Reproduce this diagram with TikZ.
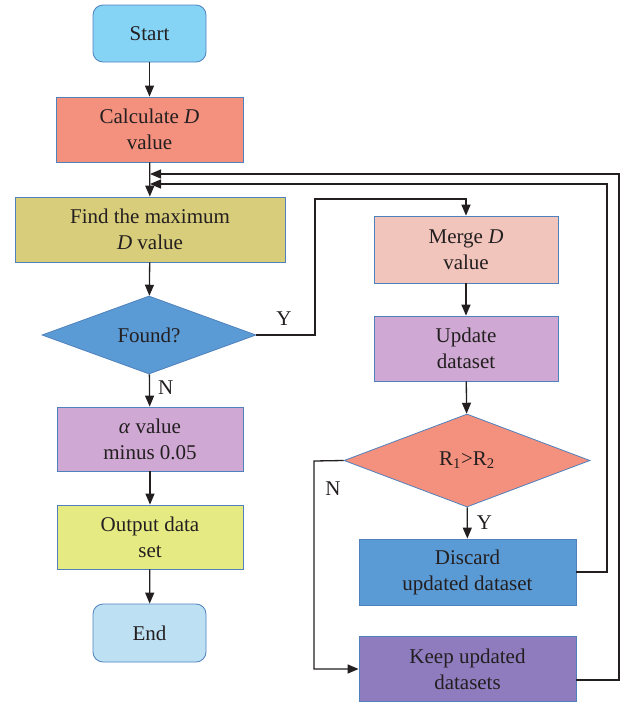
\documentclass[tikz,border=0pt]{standalone}
\usepackage{fontspec}
\setmainfont{Liberation Serif}
\usetikzlibrary{shapes.geometric,arrows.meta}
\definecolor{bordc}{HTML}{4F81BD}
\definecolor{linec}{HTML}{231F20}
\definecolor{txtc}{HTML}{231F20}
\definecolor{startc}{HTML}{86D4F5}
\definecolor{endc}{HTML}{BDE1F3}
\definecolor{calcc}{HTML}{F4907E}
\definecolor{findc}{HTML}{D8CD7A}
\definecolor{foundc}{HTML}{5B9BD5}
\definecolor{alphac}{HTML}{CFA9D3}
\definecolor{outc}{HTML}{E6EA82}
\definecolor{mergec}{HTML}{F2C5BC}
\definecolor{updc}{HTML}{CFA9D3}
\definecolor{rc}{HTML}{F4907E}
\definecolor{discc}{HTML}{5B9BD5}
\definecolor{keepc}{HTML}{8E7CBF}
\begin{document}
\begin{tikzpicture}[x=1pt,y=-1pt,
  txt/.style={text=txtc,font=\fontsize{21}{26}\selectfont},
  box/.style={txt,draw=bordc,line width=0.8pt,inner sep=0pt,align=center},
  term/.style={box,rounded corners=10pt},
  decision/.style={box,diamond},
  conn/.style={draw=linec,line width=1.3pt,-{Triangle[length=11pt,width=9pt]}},
  lbl/.style={txt,inner sep=0pt}]
\useasboundingbox (0,0) rectangle (622,705);
% left column
\node[term,fill=startc,minimum width=113pt,minimum height=57pt] (start) at (149.5,33.5) {Start};
\node[box,fill=calcc,minimum width=187pt,minimum height=65pt] (calc) at (149.5,129.5) {Calculate \textit{D}\\value};
\node[box,fill=findc,minimum width=270pt,minimum height=65pt] (find) at (150,229.5) {Find the maximum\\\textit{D} value};
\node[decision,fill=foundc,minimum width=214pt,minimum height=78pt] (found) at (149,335) {Found?};
\node[box,fill=alphac,minimum width=186pt,minimum height=64pt] (alpha) at (150,439) {\textit{α} value\\minus 0.05};
\node[box,fill=outc,minimum width=186pt,minimum height=64pt] (out) at (150,537) {Output data\\set};
\node[term,fill=endc,minimum width=113pt,minimum height=58pt] (end) at (149.5,633) {End};
% right column
\node[box,fill=mergec,minimum width=184pt,minimum height=67pt] (merge) at (466,249.5) {Merge \textit{D}\\value};
\node[box,fill=updc,minimum width=184pt,minimum height=65pt] (upd) at (466,348.5) {Update\\dataset};
\node[decision,fill=rc,minimum width=246pt,minimum height=93pt] (r12) at (467,460.5) {R\textsubscript{1}>R\textsubscript{2}};
\node[box,fill=discc,minimum width=217pt,minimum height=66pt] (disc) at (467.5,572) {Discard\\updated dataset};
\node[box,fill=keepc,minimum width=217pt,minimum height=65pt] (keep) at (467.5,669) {Keep updated\\datasets};
% helper coordinates
\coordinate (yA) at (315,335);
\coordinate (yB) at (315,199);
\coordinate (nA) at (314,461);
\coordinate (jIn) at (150,184);
\coordinate (jOut) at (150,174);
\coordinate (cIn) at (607,184);
\coordinate (cOut) at (619,174);
% connectors
\draw[conn] (start) -- (calc);
\draw[conn] (calc) -- (find);
\draw[conn] (find) -- (found);
\draw[conn] (found) -- node[lbl,pos=0.42,right=8pt]{N} (alpha);
\draw[conn] (alpha) -- (out);
\draw[conn] (out) -- (end);
\draw[conn] (found.east) -- node[lbl,pos=0.47,above=9pt]{Y} (yA) -- (yB) -| (merge.north);
\draw[conn] (merge) -- (upd);
\draw[conn] (upd) -- (r12);
\draw[conn] (r12) -- node[lbl,pos=0.5,right=9pt]{Y} (disc);
\draw[conn] (r12.west) -- (nA) |- (keep.west);
\node[lbl] (nlbl) at (333,489) {N};
\draw[conn] (disc.east) -| (cIn) -- (jIn);
\draw[conn] ([yshift=-11pt]keep.east) -| (cOut) -- (jOut);
\end{tikzpicture}
\end{document}
